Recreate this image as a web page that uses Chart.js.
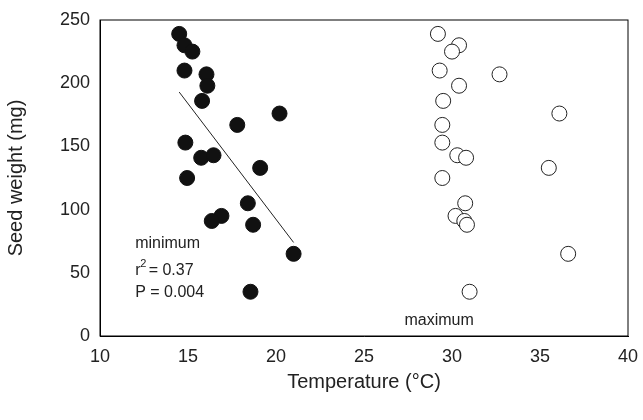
<!DOCTYPE html>
<html>
<head>
<script src="https://cdn.jsdelivr.net/npm/chart.js@4"></script>
<style>body{margin:0;background:#fff}#wrap{width:643px;height:420px}</style>
</head>
<body>
<div id="wrap"><canvas id="c"></canvas></div>
<script>
const minTemp = [14.5, 14.8, 15.25, 14.8, 16.05, 16.1, 15.8, 20.2, 17.8, 14.85, 15.75, 16.45, 19.1, 14.95, 18.4, 16.9, 16.35, 18.7, 21.0, 18.55];
const minWeight = [239, 230, 225, 210, 207, 198, 186, 176, 167, 153, 141, 143, 133, 125, 105, 95, 91, 88, 65, 35];
const maxTemp = [29.2, 30.4, 30.0, 29.3, 32.7, 30.4, 29.5, 36.1, 29.45, 29.45, 30.3, 30.8, 35.5, 29.45, 30.75, 30.2, 30.7, 30.85, 36.6, 31.0];
const maxWeight = [239, 230, 225, 210, 207, 198, 186, 176, 167, 153, 143, 141, 133, 125, 105, 95, 91, 88, 65, 35];
const fitX = [14.5, 21.0];
const fitY = [193, 74];

const font = {family: "'Liberation Sans', Arial, sans-serif", size: 18};

const frame = {
    id: 'frame',
    afterDraw(chart) {
        const a = chart.chartArea, ctx = chart.ctx;
        const x = chart.scales.x, y = chart.scales.y;
        ctx.save();
        ctx.strokeStyle = '#000';
        ctx.lineWidth = 1;
        ctx.strokeRect(a.left, a.top, a.right - a.left, a.bottom - a.top);
        ctx.fillStyle = '#222';
        const f16 = "16px 'Liberation Sans', Arial, sans-serif";
        ctx.font = f16;
        ctx.textBaseline = 'middle';
        const lx = x.getPixelForValue(12);
        ctx.fillText('minimum', lx, y.getPixelForValue(73));
        ctx.fillText('r', lx, y.getPixelForValue(52));
        ctx.font = "11px 'Liberation Sans', Arial, sans-serif";
        ctx.fillText('2', lx + 5, y.getPixelForValue(57));
        ctx.font = f16;
        ctx.fillText(' = 0.37', lx + 9, y.getPixelForValue(52));
        ctx.fillText('P = 0.004', lx, y.getPixelForValue(34));
        ctx.fillText('maximum', x.getPixelForValue(27.3), y.getPixelForValue(12));
        ctx.restore();
    }
};

new Chart('c', {
    type: 'scatter',
    data: {
        datasets: [{
            type: 'line',
            data: fitX.map((v, i) => ({x: v, y: fitY[i]})),
            borderColor: '#222',
            borderWidth: 1,
            pointRadius: 0
        }, {
            data: minTemp.map((v, i) => ({x: v, y: minWeight[i]})),
            backgroundColor: '#111',
            borderColor: '#111',
            pointRadius: 7.5
        }, {
            data: maxTemp.map((v, i) => ({x: v, y: maxWeight[i]})),
            backgroundColor: '#fff',
            borderColor: '#222',
            borderWidth: 1,
            pointRadius: 7.5
        }]
    },
    options: {
        responsive: true,
        maintainAspectRatio: false,
        animation: false,
        layout: {padding: {top: 20, right: 15}},
        plugins: {legend: {display: false}, tooltip: {enabled: false}},
        scales: {
            x: {
                min: 10, max: 40,
                ticks: {stepSize: 5, color: '#222', font: font, padding: 4},
                grid: {display: false, drawTicks: true, tickLength: 6, tickColor: '#000'},
                border: {color: '#000'},
                title: {display: true, text: 'Temperature (°C)', color: '#222', font: {family: font.family, size: 20}, padding: {top: 8, bottom: 26}},
                afterFit(s) { s.height = 84; }
            },
            y: {
                min: 0, max: 250,
                ticks: {stepSize: 50, color: '#222', font: font, padding: 4},
                grid: {display: false, drawTicks: true, tickLength: 6, tickColor: '#000'},
                border: {color: '#000'},
                title: {display: true, text: 'Seed weight (mg)', color: '#222', font: {family: font.family, size: 20}, padding: {bottom: 6}},
                afterFit(s) { s.width = 100; }
            }
        }
    },
    plugins: [frame]
});
</script>
</body>
</html>
